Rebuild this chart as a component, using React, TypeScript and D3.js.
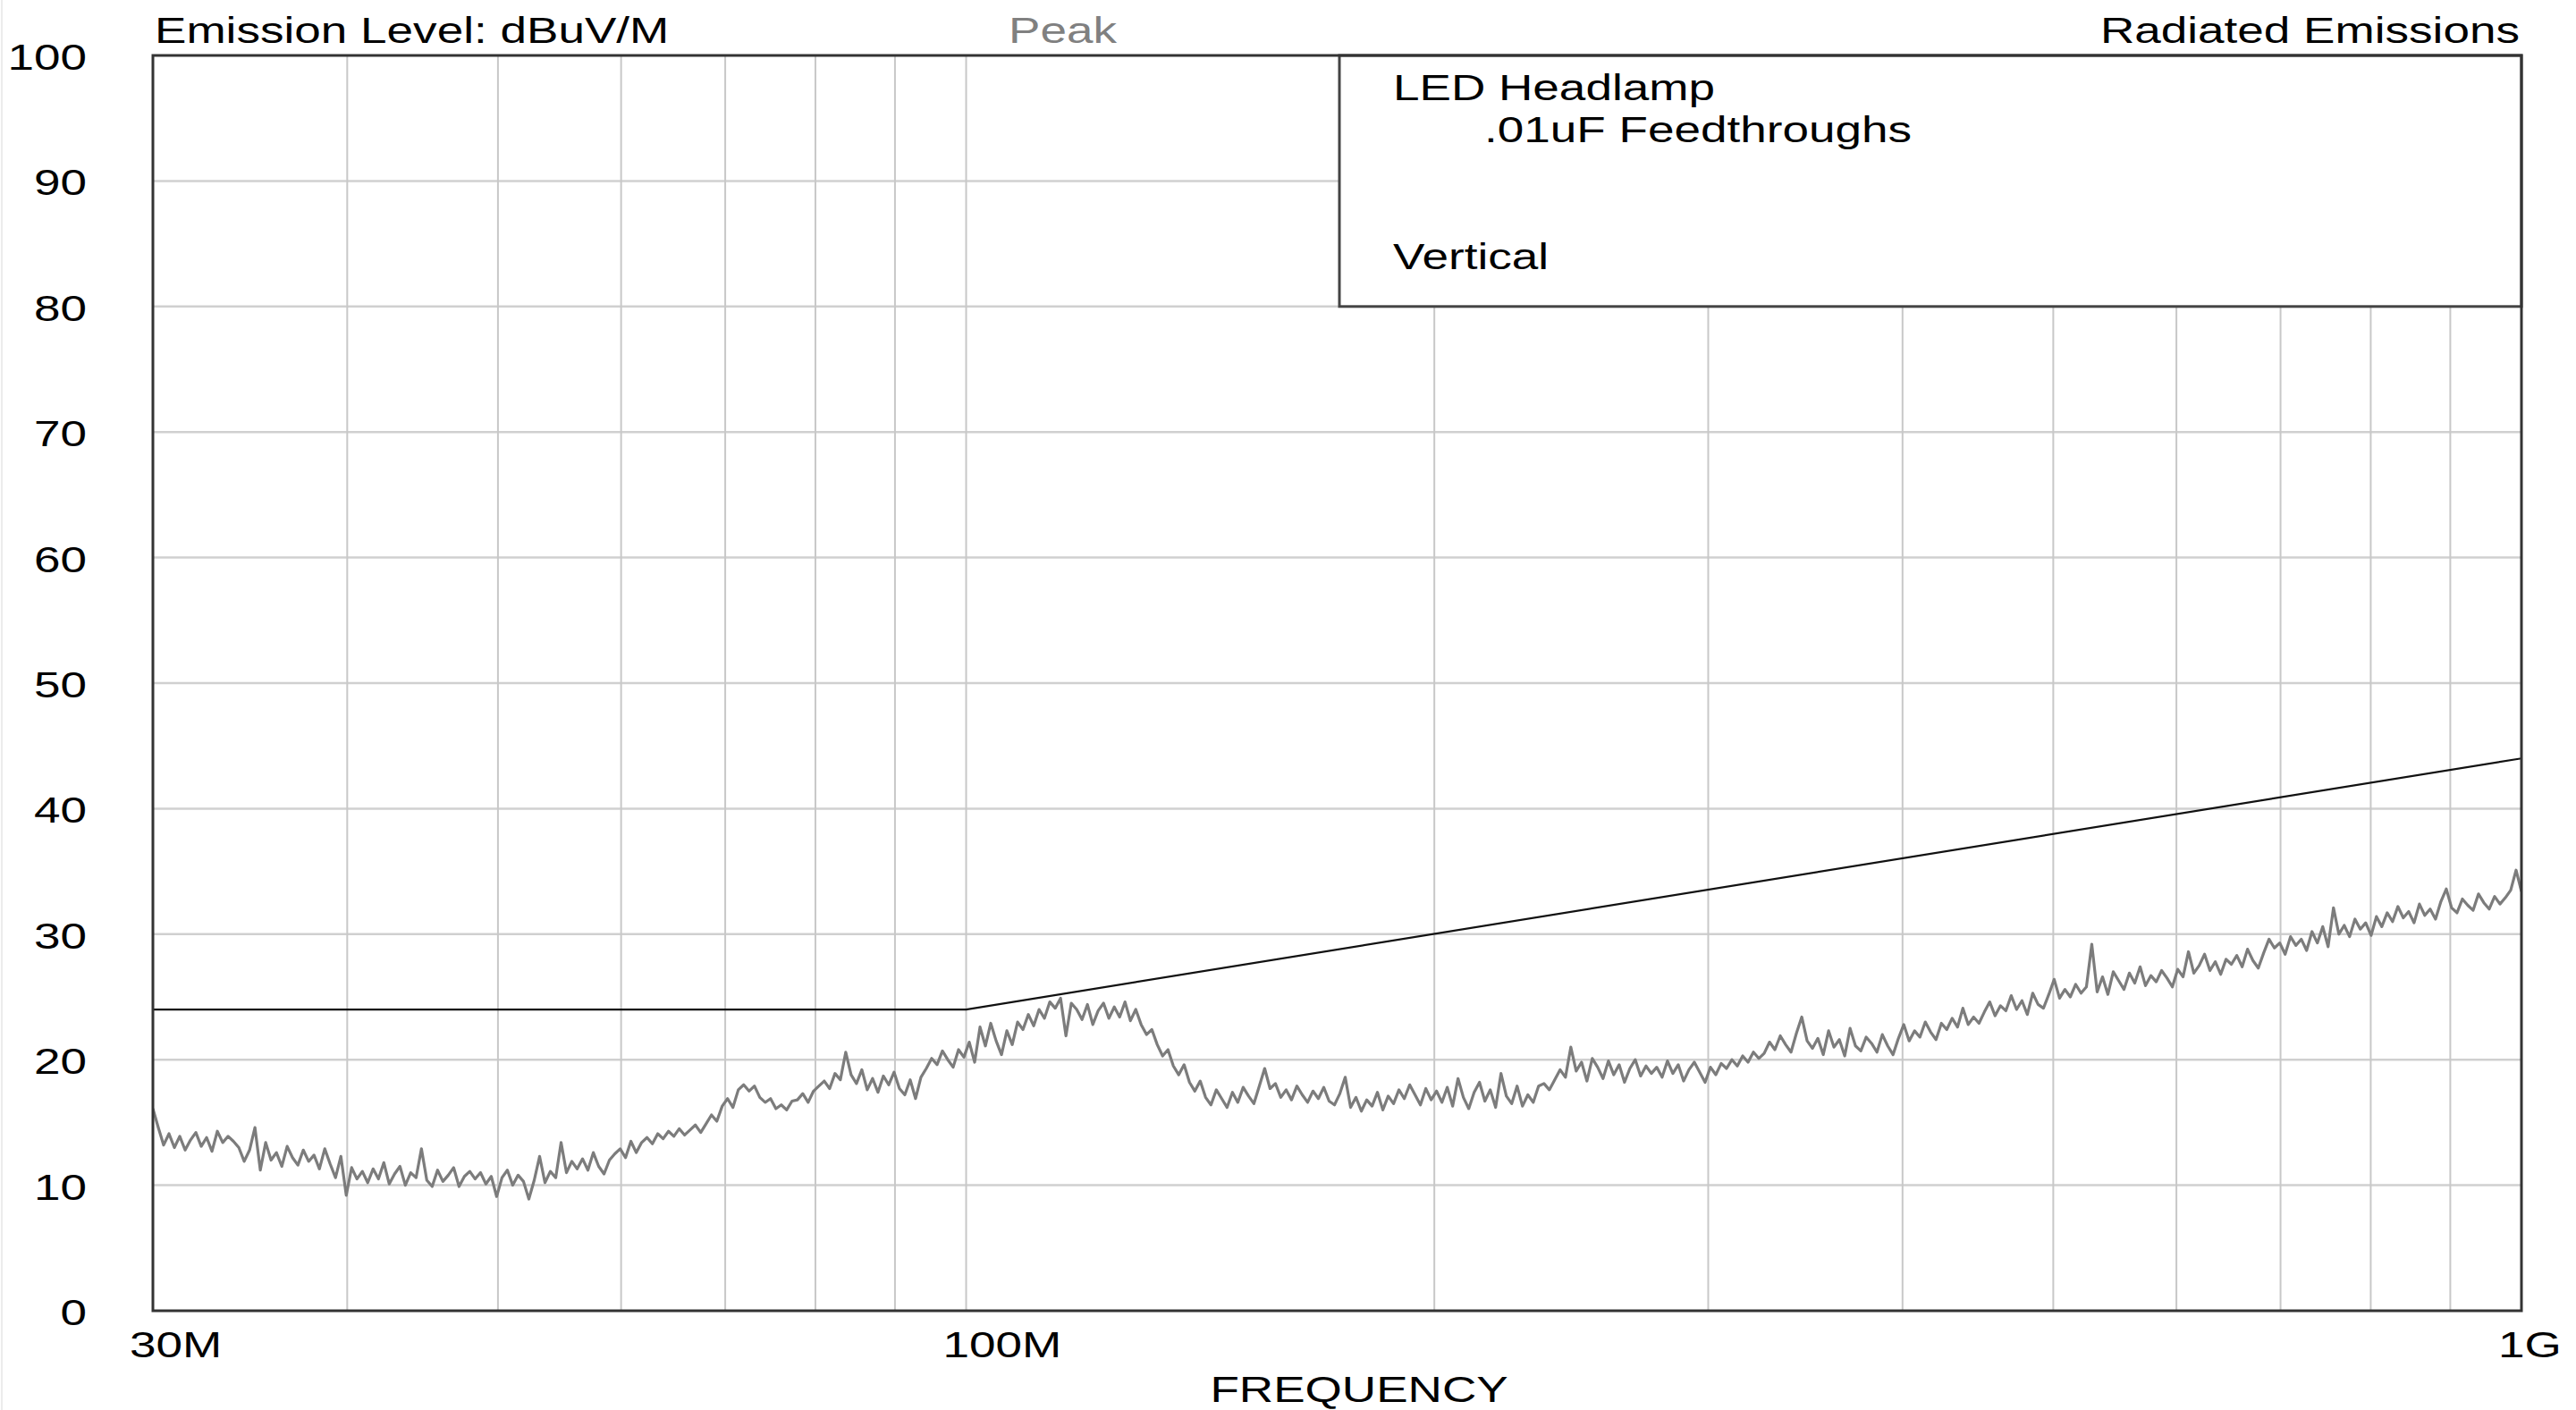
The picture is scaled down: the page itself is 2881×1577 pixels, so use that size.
import React from "react";
import * as d3 from "d3";

// ---- data ----
const TITLE_LEFT = "Emission Level: dBuV/M";
const TITLE_MID = "Peak";
const TITLE_RIGHT = "Radiated Emissions";
const X_LABEL = "FREQUENCY";
const LEGEND_LINES = ["LED Headlamp", ".01uF Feedthroughs", "Vertical"];

const Y_TICKS = [0, 10, 20, 30, 40, 50, 60, 70, 80, 90, 100];
const X_TICK_MHZ = [30, 100, 1000];
const X_TICK_LABELS = ["30M", "100M", "1G"];
const X_GRID_MHZ = [40, 50, 60, 70, 80, 90, 100, 200, 300, 400, 500, 600, 700, 800, 900];

const LIMIT_MHZ = [30, 100, 1000];
const LIMIT_DB = [24, 24, 44];

const SWEEP_START_MHZ = 30;
const SWEEP_STOP_MHZ = 1000;
// peak trace readings, evenly spaced along the log-frequency sweep
const TRACE_DB = [
  16.1, 14.6, 13.2, 14.1, 13.0, 13.9, 12.8, 13.6, 14.2, 13.1, 13.8, 12.7, 14.3, 13.4, 13.9, 13.5, 13.0, 11.9, 12.8, 14.6,
  11.2, 13.4, 12.0, 12.6, 11.5, 13.1, 12.2, 11.6, 12.8, 11.9, 12.4, 11.3, 12.9, 11.7, 10.6, 12.3, 9.2, 11.4, 10.5, 11.1,
  10.2, 11.3, 10.5, 11.8, 10.1, 10.9, 11.5, 10.0, 11.0, 10.6, 12.9, 10.4, 9.9, 11.2, 10.3, 10.8, 11.4, 9.9, 10.7, 11.1,
  10.5, 11.0, 10.1, 10.7, 9.1, 10.6, 11.2, 10.0, 10.8, 10.3, 8.9, 10.4, 12.3, 10.2, 11.1, 10.6, 13.4, 11.0, 11.9, 11.3,
  12.1, 11.2, 12.6, 11.5, 10.9, 12.0, 12.5, 12.9, 12.2, 13.5, 12.6, 13.4, 13.8, 13.3, 14.1, 13.7, 14.3, 13.9, 14.5, 14.0,
  14.4, 14.8, 14.2, 14.9, 15.6, 15.1, 16.3, 16.9, 16.2, 17.6, 18.0, 17.5, 17.9, 17.0, 16.6, 16.9, 16.1, 16.4, 16.0, 16.7,
  16.8, 17.3, 16.6, 17.5, 17.9, 18.3, 17.7, 18.9, 18.4, 20.6, 18.8, 18.1, 19.2, 17.6, 18.5, 17.4, 18.7, 18.0, 19.0, 17.7,
  17.2, 18.4, 16.9, 18.6, 19.3, 20.1, 19.6, 20.7, 20.0, 19.4, 20.8, 20.2, 21.4, 19.8, 22.6, 21.1, 22.9, 21.5, 20.4, 22.3,
  21.2, 23.0, 22.4, 23.6, 22.7, 24.0, 23.3, 24.6, 24.1, 24.9, 21.9, 24.5, 24.0, 23.2, 24.4, 22.8, 23.9, 24.5, 23.3, 24.2,
  23.4, 24.6, 23.1, 24.0, 22.8, 22.0, 22.4, 21.2, 20.3, 20.8, 19.5, 18.8, 19.6, 18.2, 17.5, 18.3, 17.0, 16.4, 17.6, 16.9,
  16.2, 17.4, 16.6, 17.8, 17.1, 16.5, 17.9, 19.3, 17.7, 18.1, 17.0, 17.6, 16.8, 17.9, 17.2, 16.6, 17.5, 16.9, 17.8, 16.7,
  16.4, 17.3, 18.6, 16.2, 17.0, 15.9, 16.8, 16.3, 17.4, 16.0, 17.1, 16.5, 17.6, 16.9, 18.0, 17.2, 16.4, 17.7, 16.8, 17.5,
  16.6, 17.8, 16.3, 18.5, 17.0, 16.1, 17.4, 18.2, 16.7, 17.6, 16.2, 18.9, 17.1, 16.5, 17.9, 16.3, 17.2, 16.6, 17.9, 18.1,
  17.6, 18.4, 19.2, 18.6, 21.0, 19.1, 19.8, 18.3, 20.1, 19.4, 18.5, 19.9, 18.8, 19.6, 18.2, 19.3, 20.0, 18.7, 19.5, 18.9,
  19.4, 18.6, 19.9, 18.9, 19.6, 18.3, 19.2, 19.8, 19.0, 18.2, 19.4, 18.8, 19.7, 19.3, 20.0, 19.5, 20.3, 19.8, 20.6, 20.1,
  20.5, 21.4, 20.8, 21.9, 21.2, 20.6, 22.1, 23.4, 21.5, 20.9, 21.7, 20.4, 22.3, 21.0, 21.6, 20.3, 22.5, 21.1, 20.7, 21.8,
  21.3, 20.6, 22.0, 21.1, 20.4, 21.7, 22.8, 21.5, 22.3, 21.8, 23.0, 22.2, 21.6, 22.9, 22.4, 23.3, 22.6, 24.1, 22.8, 23.4,
  22.9, 23.8, 24.6, 23.5, 24.3, 23.9, 25.1, 24.0, 24.7, 23.6, 25.3, 24.4, 24.1, 25.2, 26.4, 24.9, 25.6, 25.0, 26.0, 25.3,
  25.8, 29.2, 25.4, 26.6, 25.2, 27.0, 26.3, 25.6, 26.9, 26.1, 27.4, 25.9, 26.7, 26.2, 27.1, 26.5, 25.8, 27.2, 26.6, 28.6,
  26.9, 27.5, 28.4, 27.1, 27.8, 26.8, 28.0, 27.6, 28.3, 27.4, 28.8, 27.9, 27.3, 28.5, 29.6, 28.9, 29.3, 28.4, 29.8, 29.1,
  29.6, 28.7, 30.2, 29.3, 30.6, 29.0, 32.1, 30.0, 30.7, 29.8, 31.2, 30.4, 30.9, 29.9, 31.4, 30.6, 31.7, 31.0, 32.2, 31.3,
  31.8, 30.9, 32.4, 31.5, 32.0, 31.2, 32.6, 33.6, 32.1, 31.7, 32.8, 32.3, 31.9, 33.2, 32.5, 32.0, 33.0, 32.4, 32.9, 33.5,
  35.1, 33.4,
];

// ---- layout ----
const W = 2881;
const H = 1577;
const M = { left: 171, right: 2820, top: 62, bottom: 1466 };
const FONT = "'Liberation Sans', Arial, sans-serif";
const FS = 41;
const SX = 1.295;

function T(props: { x: number; y: number; anchor?: string; fill?: string; children: React.ReactNode }) {
  const { x, y, anchor = "start", fill = "#000", children } = props;
  return (
    <text
      transform={`translate(${x},${y}) scale(${SX},1)`}
      textAnchor={anchor}
      fontFamily={FONT}
      fontSize={FS}
      fill={fill}
    >
      {children}
    </text>
  );
}

export default function App() {
  const x = d3.scaleLog().domain([SWEEP_START_MHZ, SWEEP_STOP_MHZ]).range([M.left, M.right]);
  const y = d3.scaleLinear().domain([0, 100]).range([M.bottom, M.top]);

  const n = TRACE_DB.length;
  const ratio = SWEEP_STOP_MHZ / SWEEP_START_MHZ;
  const trace = TRACE_DB.map((v, i) => [SWEEP_START_MHZ * Math.pow(ratio, i / (n - 1)), v] as [number, number]);
  const lineGen = d3
    .line<[number, number]>()
    .x((d) => x(d[0]))
    .y((d) => y(d[1]));
  const limit = LIMIT_MHZ.map((f, i) => [f, LIMIT_DB[i]] as [number, number]);

  const boxLeft = 1498;
  const boxBottom = y(80);

  return (
    <svg
      width={W}
      height={H}
      viewBox={`0 0 ${W} ${H}`}
      style={{ position: "absolute", left: 0, top: 0, display: "block", background: "#fff" }}
    >
      <rect x={0} y={0} width={W} height={H} fill="#fff" />
      <line x1={2} x2={2} y1={0} y2={H} stroke="#ececec" strokeWidth={2} />
      <defs>
        <clipPath id="plotclip">
          <rect x={M.left} y={M.top} width={M.right - M.left} height={M.bottom - M.top} />
        </clipPath>
      </defs>

      {/* grid */}
      {Y_TICKS.filter((t) => t > 0 && t < 100).map((t) => (
        <line key={"gy" + t} x1={M.left} x2={M.right} y1={y(t)} y2={y(t)} stroke="#d0d0d0" strokeWidth={2.5} />
      ))}
      {X_GRID_MHZ.map((f) => (
        <line key={"gx" + f} x1={x(f)} x2={x(f)} y1={M.top} y2={M.bottom} stroke="#c8c8c8" strokeWidth={2} />
      ))}

      {/* legend box */}
      <rect
        x={boxLeft}
        y={M.top}
        width={M.right - boxLeft}
        height={boxBottom - M.top}
        fill="#fff"
        stroke="#444"
        strokeWidth={3}
      />
      <T x={1558} y={112}>{LEGEND_LINES[0]}</T>
      <T x={1660} y={159}>{LEGEND_LINES[1]}</T>
      <T x={1558} y={301}>{LEGEND_LINES[2]}</T>

      {/* limit + trace */}
      <g clipPath="url(#plotclip)">
        <path d={lineGen(limit) || ""} fill="none" stroke="#111" strokeWidth={2.2} />
        <path d={lineGen(trace) || ""} fill="none" stroke="#7c7c7c" strokeWidth={3.2} strokeLinejoin="round" />
      </g>

      {/* frame */}
      <rect
        x={M.left}
        y={M.top}
        width={M.right - M.left}
        height={M.bottom - M.top}
        fill="none"
        stroke="#333"
        strokeWidth={3}
      />

      {/* y labels */}
      {Y_TICKS.map((t) => (
        <T key={"yl" + t} x={97} y={y(t) + 16} anchor="end">
          {String(t)}
        </T>
      ))}

      {/* x labels */}
      {X_TICK_MHZ.map((f, i) => (
        <T key={"xl" + f} x={x(f) - 26} y={1518}>
          {X_TICK_LABELS[i]}
        </T>
      ))}
      <T x={1520} y={1568} anchor="middle">
        {X_LABEL}
      </T>

      {/* titles */}
      <T x={173} y={48}>{TITLE_LEFT}</T>
      <T x={1128} y={48} fill="#808080">{TITLE_MID}</T>
      <T x={2818} y={48} anchor="end">{TITLE_RIGHT}</T>
    </svg>
  );
}
